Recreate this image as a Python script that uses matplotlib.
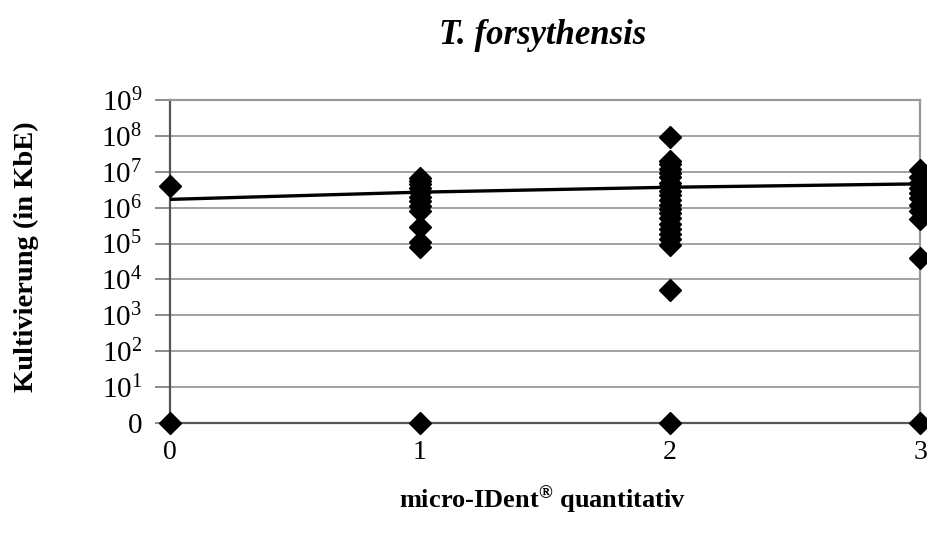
import matplotlib
matplotlib.use("Agg")
import matplotlib.pyplot as plt
import numpy as np

# ---- data ----
categories = [0, 1, 2, 3]
values_0 = [4e6, 0]
values_1 = [6.6e6, 5.5e6, 4.5e6, 3.5e6, 2.8e6, 2e6, 1.5e6, 1.1e6, 8e5, 2.8e5, 1.1e5, 8e4, 0]
values_2 = [9.5e7, 2e7, 1.6e7, 1.2e7, 9e6, 7e6, 5e6, 4e6, 3e6, 2.2e6, 1.6e6, 1.2e6,
            9e5, 7e5, 5e5, 3.5e5, 2.5e5, 1.8e5, 1.3e5, 9e4, 5e3, 0]
values_3 = [1.1e7, 7e6, 5e6, 3.5e6, 2.5e6, 1.8e6, 1.2e6, 8e5, 4.8e5, 4e4, 0]
trend_x = [0, 1, 2, 3]
trend_y = [1.7e6, 2.7e6, 3.7e6, 4.6e6]
y_ticks = [1, 1e1, 1e2, 1e3, 1e4, 1e5, 1e6, 1e7, 1e8, 1e9]
y_tick_labels = ["0"] + [r"$\mathregular{10^{%d}}$" % i for i in range(1, 10)]
x_tick_labels = ["0", "1", "2", "3"]
title = "T. forsythensis"
xlabel = r"micro-IDent$^{\mathbf{\circledR}}$ quantitativ"
ylabel = "Kultivierung (in KbE)"

plt.rcParams["font.family"] = ["Liberation Serif", "DejaVu Serif"]
plt.rcParams["mathtext.fontset"] = "custom"
plt.rcParams["mathtext.rm"] = "Liberation Serif"
plt.rcParams["mathtext.it"] = "Liberation Serif:italic"
plt.rcParams["mathtext.bf"] = "Liberation Serif:bold"

fig = plt.figure(figsize=(9.28, 5.41), dpi=100)
ax = fig.add_axes([0.1832, 0.2181, 0.8082, 0.5971])

all_vals = [values_0, values_1, values_2, values_3]
for cx, vals in zip(categories, all_vals):
    v = np.array(vals, dtype=float)
    v = np.where(v <= 0, 1.0, v)  # zero drawn at the "0" baseline
    ax.plot(np.full(len(v), cx), v, linestyle="none", marker="D",
            markersize=11.5, color="black", clip_on=False, zorder=4)

ax.plot(trend_x, trend_y, color="black", linewidth=2.4, zorder=3,
        solid_capstyle="butt")

ax.set_yscale("log")
ax.set_ylim(1, 1e9)
ax.set_xlim(0, 3)
ax.set_yticks(y_ticks)
ax.set_yticklabels(y_tick_labels, fontsize=21)
ax.yaxis.set_minor_locator(matplotlib.ticker.NullLocator())
ax.set_xticks(categories)
ax.set_xticklabels(x_tick_labels, fontsize=20)

ax.tick_params(axis="y", length=11, width=1.2, color="#777777", pad=9)
ax.tick_params(axis="x", length=0, pad=12)

ax.grid(axis="y", color="#888888", linewidth=1.1)
ax.set_axisbelow(True)

for side in ["left", "bottom"]:
    ax.spines[side].set_color("#555555")
    ax.spines[side].set_linewidth(1.6)
for side in ["top", "right"]:
    ax.spines[side].set_color("#999999")
    ax.spines[side].set_linewidth(1.6)

fig.text(0.585, 0.935, title, fontsize=25, fontweight="bold", fontstyle="italic",
         ha="center", va="center")
fig.text(0.585, 0.076, xlabel, fontsize=19, fontweight="bold",
         ha="center", va="center")
fig.text(0.029, 0.525, ylabel, fontsize=20.5, fontweight="bold",
         ha="center", va="center", rotation=90)

fig.savefig("out.png", dpi=100)
